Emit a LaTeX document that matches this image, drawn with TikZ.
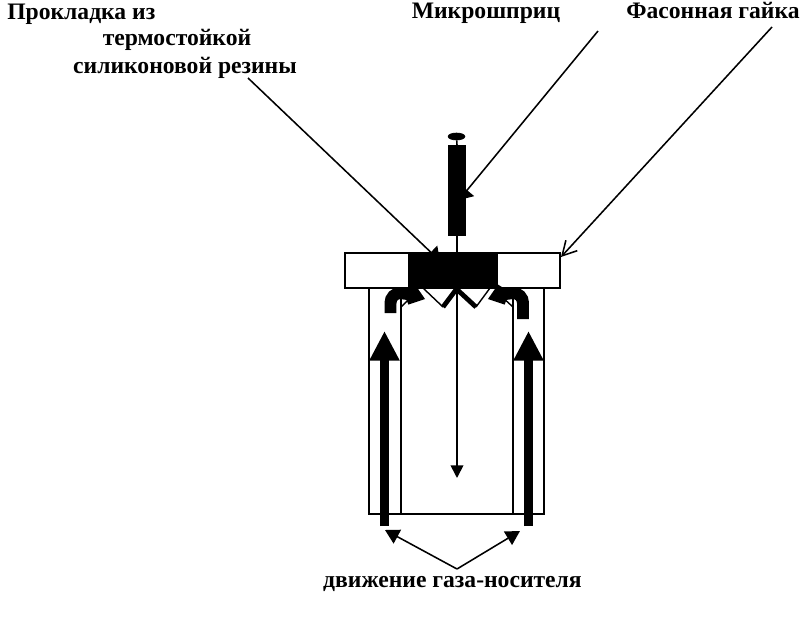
\documentclass[tikz,border=0pt]{standalone}
\usepackage{fontspec}
\setmainfont{Liberation Serif}
\usetikzlibrary{arrows.meta,positioning,shapes.geometric}

\begin{document}
\begin{tikzpicture}[
  x=.025cm, y=-.025cm,
  font=\fontsize{16.8}{19}\selectfont\bfseries,
  wall/.style={draw, line width=1.3pt, fill=white},
  solid box/.style={draw, fill=black, line width=.6pt},
  leader/.style={-{Triangle[length=10pt,width=11pt]}, line width=1.1pt},
  wide leader/.style={-{Triangle[length=9pt,width=13pt]}, line width=1.1pt},
  flow/.style={-{Triangle[length=21pt,width=20pt]}, line width=7.1pt},
  bend flow/.style={line width=8.5pt, -{Kite[length=16pt,width=15pt,inset=6pt]}, rounded corners=7pt},
  caption/.style={inner sep=0pt, align=center}
]
  \useasboundingbox (0,0) rectangle (802,624);
  % housing
  \node[wall, minimum width=4.375cm, minimum height=5.65cm, inner sep=0pt] (body) at (456.5,401) {};
  \coordinate (innerLB) at (401,514);
  \coordinate (innerLT) at (401,288);
  \coordinate (innerRB) at (513,514);
  \coordinate (innerRT) at (513,288);
  \draw[line width=1.3pt] (innerLT) -- (innerLB);
  \draw[line width=1.3pt] (innerRT) -- (innerRB);
  % nut with gasket
  \coordinate (nutTL) at (345,253);
  \coordinate (nutBR) at (560,288);
  \draw[wall] (nutTL) rectangle (nutBR);
  \draw[solid box] (408,253) rectangle (497,288);
  % liner
  \coordinate (z0) at (423,288);
  \coordinate (z1) at (443,307);
  \coordinate (z2) at (456.5,289);
  \coordinate (z3) at (476,307);
  \coordinate (z4) at (490,288);
  \draw[line width=1pt] (z0) -- (z1);
  \draw[line width=1pt] (z3) -- (z4);
  \draw[line width=3.4pt] (z1) -- (z2) -- (z3);
  \draw[line width=1pt] (401,307) -- (412,296);
  \draw[line width=1pt] (513,307) -- (501,296);
  % syringe
  \node[draw, fill=black, minimum width=12pt, minimum height=5pt, ellipse, inner sep=0pt] (plunger) at (456.5,136.5) {};
  \draw[solid box] (448,145) rectangle (465,235);
  \coordinate (syringeTop) at (457,145);
  \coordinate (syringeEnd) at (457,235);
  \coordinate (needleTip) at (457,478);
  \draw[line width=1.1pt] (plunger) -- (syringeTop);
  \draw[line width=1.1pt] (syringeEnd) -- (457,289);
  \draw[-{Triangle[length=9pt,width=9pt]}, line width=1.2pt] (457,289) -- (needleTip);
  % gas flow
  \coordinate (gasLB) at (384.5,526);
  \coordinate (gasLT) at (384.5,331);
  \coordinate (gasRB) at (528.5,526);
  \coordinate (gasRT) at (528.5,331);
  \draw[flow] (gasLB) -- (gasLT);
  \draw[flow] (gasRB) -- (gasRT);
  \draw[bend flow] (390.5,313) -- (390.5,293) -- (407,293) -- (425,299);
  \draw[bend flow] (523,319) -- (523,293) -- (506,293) -- (488,299);
  % labels
  \coordinate (syringeTail) at (598,31);
  \coordinate (nutTail) at (772,27);
  \coordinate (gasketTail) at (248,78);
  \coordinate (gasTail) at (457,569);
  \draw[wide leader] (gasketTail) -- (440,261);
  \draw[wide leader] (syringeTail) -- (459,200);
  \draw[-{Straight Barb[length=10pt,width=11pt]}, line width=1.1pt] (nutTail) -- (561,257);
  \draw[leader] (gasTail) -- (385,530);
  \draw[leader] (gasTail) -- (520,531);
  \node[caption, anchor=base west] (gasket) at (7,20) {Прокладка из};
  \node[caption, anchor=base] (gasket2) at (177,46) {термостойкой};
  \node[caption, anchor=base] (gasket3) at (185,73) {силиконовой резины};
  \node[caption, anchor=base] (syringe) at (486,19) {Микрошприц};
  \node[caption, anchor=base] (nut) at (713,19) {Фасонная гайка};
  \node[caption, anchor=base] (gas) at (452.5,587) {движение газа-носителя};
\end{tikzpicture}
\end{document}
